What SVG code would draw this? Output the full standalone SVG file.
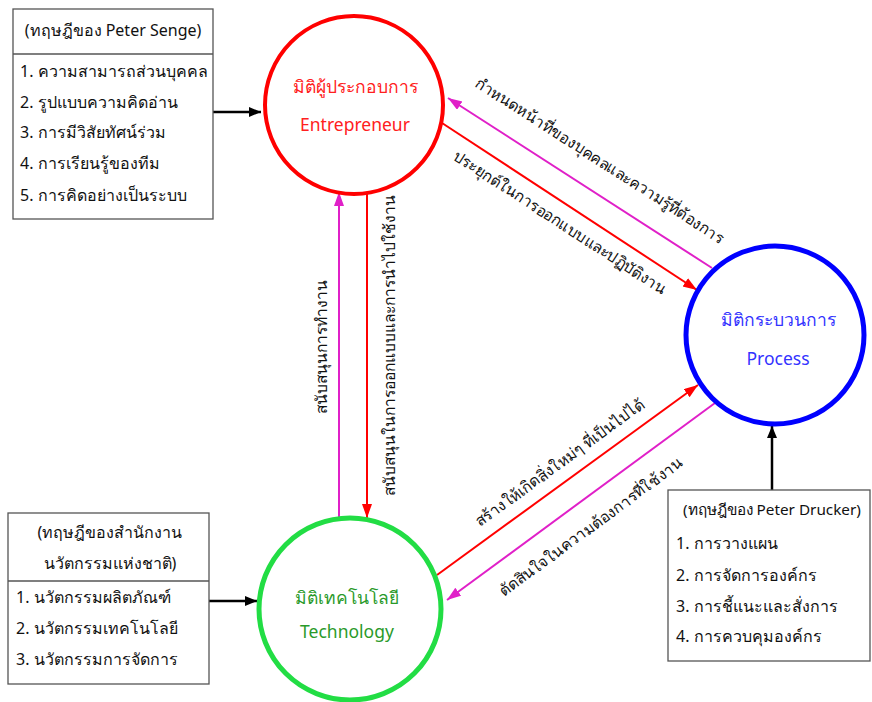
<svg xmlns="http://www.w3.org/2000/svg" width="872" height="702" viewBox="0 0 872 702">
<style>
text{font-family:"Noto Sans","Liberation Sans",sans-serif;font-size:16px;fill:#111}
.box{fill:#fff;stroke:#555;stroke-width:1.3}
.c{text-anchor:middle}
.lbl{font-size:15.5px;fill:#111}
.ttl{font-size:17.5px}
</style>
<defs>
<marker id="ab" markerUnits="userSpaceOnUse" markerWidth="14" markerHeight="12" refX="12" refY="5" orient="auto"><path d="M0,0 L12,5 L0,10 z" fill="#000"/></marker>
<marker id="ar" markerUnits="userSpaceOnUse" markerWidth="16" markerHeight="12" refX="14" refY="5" orient="auto"><path d="M0,0 L14,5 L0,10 z" fill="#ff0000"/></marker>
<marker id="am" markerUnits="userSpaceOnUse" markerWidth="16" markerHeight="12" refX="14" refY="5" orient="auto"><path d="M0,0 L14,5 L0,10 z" fill="#e020c8"/></marker>
</defs>
<rect width="872" height="702" fill="#fff"/>

<g id="connectors" fill="none">
<line x1="213" y1="112" x2="261" y2="112" stroke="#000" stroke-width="2.5" marker-end="url(#ab)"/>
<line x1="209" y1="601" x2="257" y2="601" stroke="#000" stroke-width="2.5" marker-end="url(#ab)"/>
<line x1="772" y1="490" x2="772" y2="426" stroke="#000" stroke-width="2.5" marker-end="url(#ab)"/>
<line x1="712" y1="268" x2="448" y2="98" stroke="#e020c8" stroke-width="2" marker-end="url(#am)"/>
<line x1="442" y1="123" x2="697" y2="290" stroke="#ff0000" stroke-width="2" marker-end="url(#ar)"/>
<line x1="339" y1="520" x2="339" y2="192" stroke="#e020c8" stroke-width="2" marker-end="url(#am)"/>
<line x1="367" y1="191" x2="367" y2="518" stroke="#ff0000" stroke-width="2" marker-end="url(#ar)"/>
<line x1="437" y1="575" x2="698" y2="385" stroke="#ff0000" stroke-width="2" marker-end="url(#ar)"/>
<line x1="715" y1="403" x2="447" y2="600" stroke="#e020c8" stroke-width="2" marker-end="url(#am)"/>
<text class="lbl c" transform="translate(597,165) rotate(32.8)">กำหนดหน้าที่ของบุคคลและความรู้ที่ต้องการ</text>
<text class="lbl c" transform="translate(557,227) rotate(33)">ประยุกต์ในการออกแบบและปฏิบัติงาน</text>
<text class="lbl c" transform="translate(327,347) rotate(-90)">สนับสนุนการทำงาน</text>
<text class="lbl c" transform="translate(395,345) rotate(-90)">สนับสนุนในการออกแบบและการนำไปใช้งาน</text>
<text class="lbl c" transform="translate(563,467) rotate(-36)">สร้างให้เกิดสิ่งใหม่ๆ ที่เป็นไปได้</text>
<text class="lbl c" transform="translate(594,531) rotate(-36.3)">ตัดสินใจในความต้องการที่ใช้งาน</text>
</g>

<g id="senge">
<rect class="box" x="13" y="9" width="200" height="210"/>
<line x1="13" y1="54" x2="213" y2="54" stroke="#555" stroke-width="1.3"/>
<text class="c" x="113" y="36">(ทฤษฎีของ Peter Senge)</text>
<text x="20" y="77">1. ความสามารถส่วนบุคคล</text>
<text x="20" y="108">2. รูปแบบความคิดอ่าน</text>
<text x="20" y="138">3. การมีวิสัยทัศน์ร่วม</text>
<text x="20" y="169">4. การเรียนรู้ของทีม</text>
<text x="20" y="201">5. การคิดอย่างเป็นระบบ</text>
</g>

<g id="entrepreneur">
<circle cx="354" cy="105" r="89" fill="#fff" stroke="#ff0000" stroke-width="4"/>
<text class="c ttl" x="355" y="93" style="fill:#ff2020">มิติผู้ประกอบการ</text>
<text class="c ttl" x="355" y="131" style="fill:#ff2020">Entrepreneur</text>
</g>

<g id="process">
<circle cx="775" cy="335" r="89" fill="#fff" stroke="#0000ff" stroke-width="5"/>
<text class="c ttl" x="778" y="326" style="fill:#3333ff">มิติกระบวนการ</text>
<text class="c ttl" x="778" y="365" style="fill:#3333ff">Process</text>
</g>

<g id="technology">
<circle cx="350" cy="609" r="91" fill="#fff" stroke="#22dd44" stroke-width="5"/>
<text class="c ttl" x="347" y="604" style="fill:#2a9a2a">มิติเทคโนโลยี</text>
<text class="c ttl" x="347" y="638" style="fill:#2a9a2a">Technology</text>
</g>

<g id="innovation">
<rect class="box" x="8" y="513" width="201" height="171"/>
<line x1="8" y1="581" x2="209" y2="581" stroke="#555" stroke-width="1.3"/>
<text class="c" x="110" y="538">(ทฤษฎีของสำนักงาน</text>
<text class="c" x="110" y="569">นวัตกรรมแห่งชาติ)</text>
<text x="16" y="603">1. นวัตกรรมผลิตภัณฑ์</text>
<text x="16" y="634">2. นวัตกรรมเทคโนโลยี</text>
<text x="16" y="665">3. นวัตกรรมการจัดการ</text>
</g>

<g id="drucker">
<rect class="box" x="668" y="490" width="202" height="171"/>
<text x="683" y="515" style="font-size:15.3px">(ทฤษฎีของ Peter Drucker)</text>
<text x="676" y="549">1. การวางแผน</text>
<text x="676" y="581">2. การจัดการองค์กร</text>
<text x="676" y="612">3. การชี้แนะและสั่งการ</text>
<text x="676" y="642">4. การควบคุมองค์กร</text>
</g>
</svg>
